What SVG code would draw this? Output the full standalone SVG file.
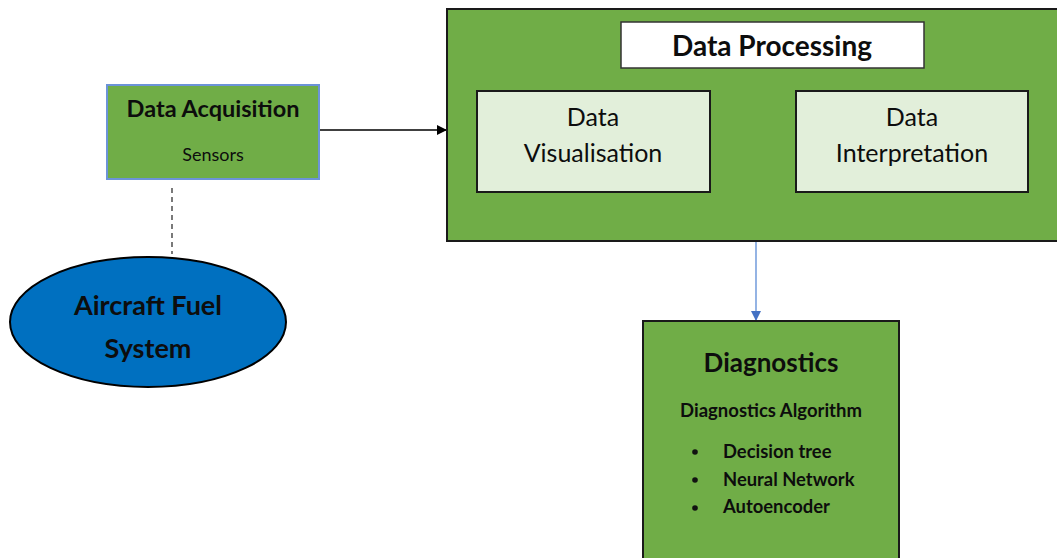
<svg xmlns="http://www.w3.org/2000/svg" width="1057" height="558" viewBox="0 0 1057 558">
  <style>
    text { font-family: Lato, "Open Sans", "Liberation Sans", sans-serif; fill: #0d0d0d; text-anchor: middle; }
    .green { fill: #70AD47; stroke: #1a1a1a; stroke-width: 2; }
    .pale { fill: #E2EFDA; stroke: #1a1a1a; stroke-width: 2; }
    .b { font-weight: bold; }
    .item { font-weight: bold; font-size: 18.4px; text-anchor: start; }
  </style>
  <defs>
    <marker id="arrBlack" markerWidth="10" markerHeight="10" refX="9" refY="5" orient="auto" markerUnits="userSpaceOnUse">
      <path d="M0,0 L10,5 L0,10 z" fill="#000"/>
    </marker>
    <marker id="arrBlue" markerWidth="10" markerHeight="10" refX="5" refY="9" orient="0" markerUnits="userSpaceOnUse">
      <path d="M0,0 L10,0 L5,10 z" fill="#4472C4"/>
    </marker>
  </defs>
  <rect width="1057" height="558" fill="#fff"/>

  <g id="connectors">
    <line x1="320" y1="130" x2="446" y2="130" stroke="#000" stroke-width="1.3" marker-end="url(#arrBlack)"/>
    <line x1="172" y1="188" x2="172" y2="254" stroke="#333" stroke-width="1.3" stroke-dasharray="5,4"/>
    <line x1="756" y1="242" x2="756" y2="320" stroke="#5B8BD6" stroke-width="1.3" marker-end="url(#arrBlue)"/>
  </g>

  <g id="data-acquisition">
    <rect x="107" y="85" width="212" height="94" fill="#70AD47" stroke="#6C93D8" stroke-width="2"/>
    <text x="213" y="117" class="b" font-size="23.5">Data Acquisition</text>
    <text x="213" y="161" font-size="18">Sensors</text>
  </g>

  <g id="aircraft-fuel-system">
    <ellipse cx="148" cy="322" rx="138" ry="65" fill="#0070C0" stroke="#000" stroke-width="2"/>
    <text x="148" y="315" class="b" font-size="27">Aircraft Fuel</text>
    <text x="148" y="358" class="b" font-size="27">System</text>
  </g>

  <g id="data-processing">
    <rect x="447" y="9" width="620" height="232" class="green"/>
    <rect x="621" y="22" width="303" height="46" fill="#fff" stroke="#333" stroke-width="1.5"/>
    <text x="772" y="56" class="b" font-size="28">Data Processing</text>
    <g id="data-visualisation">
      <rect x="477" y="91" width="233" height="101" class="pale"/>
      <text x="593" y="126" font-size="25">Data</text>
      <text x="593" y="162" font-size="25">Visualisation</text>
    </g>
    <g id="data-interpretation">
      <rect x="796" y="91" width="232" height="101" class="pale"/>
      <text x="912" y="126" font-size="25">Data</text>
      <text x="912" y="162" font-size="25">Interpretation</text>
    </g>
  </g>

  <g id="diagnostics">
    <rect x="643" y="321" width="256" height="250" class="green"/>
    <text x="771" y="372" class="b" font-size="26">Diagnostics</text>
    <text x="771" y="417" class="b" font-size="18.5">Diagnostics Algorithm</text>
    <circle cx="695" cy="452" r="2.8" fill="#111"/>
    <circle cx="695" cy="480" r="2.8" fill="#111"/>
    <circle cx="695" cy="508" r="2.8" fill="#111"/>
    <text x="723" y="458" class="item">Decision tree</text>
    <text x="723" y="486" class="item">Neural Network</text>
    <text x="723" y="513" class="item">Autoencoder</text>
  </g>
</svg>
